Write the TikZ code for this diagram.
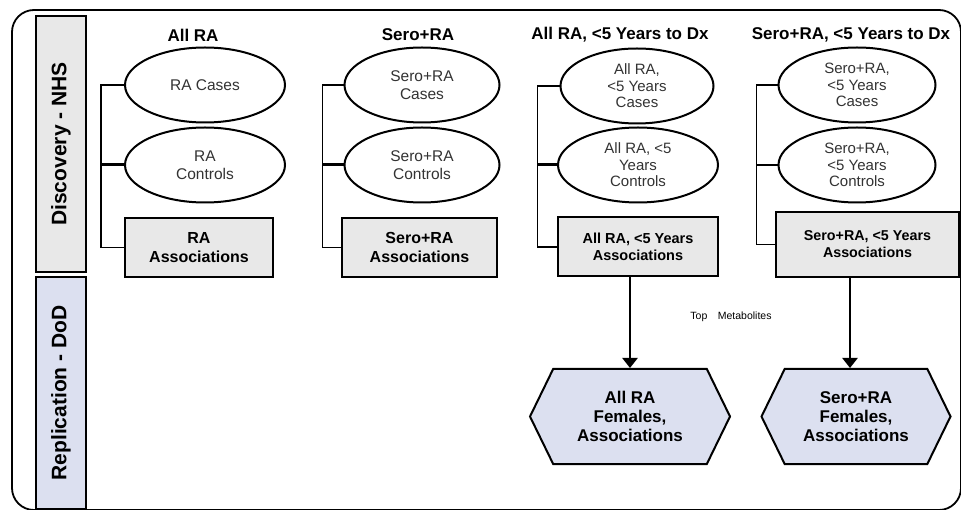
\documentclass[tikz,border=0pt]{standalone}
\usepackage{fontspec}
\setmainfont{Liberation Sans}
\usetikzlibrary{shapes,arrows.meta}
\definecolor{boxgray}{HTML}{E8E8E8}
\definecolor{repblue}{HTML}{DCE0F0}

\begin{document}
\begin{tikzpicture}[x=1pt,y=-1pt]
\tikzset{
frame/.style={draw=black, line width=1.8pt, rounded corners=22pt},
sidebar/.style={rectangle, draw=black, line width=2pt, rotate=90, minimum height=50pt, inner sep=0pt, font=\bfseries\fontsize{21}{24}\selectfont},
coltitle/.style={font=\bfseries\fontsize{17}{19}\selectfont},
group/.style={ellipse, draw=black, line width=2pt, fill=white, minimum width=157pt, minimum height=75pt, inner sep=0pt, text=black!80, align=center, font=\fontsize{15.5}{17.5}\selectfont},
smallgroup/.style={font=\fontsize{15}{16.5}\selectfont},
assoc/.style={rectangle, draw=black, line width=2pt, fill=boxgray, minimum height=59pt, inner sep=0pt, align=center, font=\bfseries\fontsize{16}{19}\selectfont},
repl/.style={signal, signal to=east and west, signal pointer angle=128, draw=black, line width=2pt, fill=repblue, minimum width=200pt, minimum height=95pt, inner sep=0pt, align=center, font=\bfseries\fontsize{17}{19}\selectfont},
bracket/.style={draw=black, line width=1.6pt},
myarrow/.style={-{Triangle[width=15pt,length=10pt]}, line width=2.4pt},
}
\useasboundingbox (0,0) rectangle (961,510);

\draw[frame] (12,10) rectangle (961,510);
\node[sidebar, fill=boxgray, minimum width=256pt] (nhs) at (61,144) {Discovery - NHS};
\node[sidebar, fill=repblue, minimum width=232pt] (dod) at (61,393) {Replication - DoD};

% column titles
\node[coltitle] (t1) at (193,35) {All RA};
\node[coltitle] (t2) at (418,35) {Sero+RA};
\node[coltitle] (t3) at (620,35) {All RA, <5 Years to Dx};
\node[coltitle] (t4) at (851,35) {Sero+RA, <5 Years to Dx};

% cases and controls
\node[group, minimum width=160pt] (cas1) at (205,85) {RA Cases};
\node[group, minimum width=160pt] (con1) at (205,165) {RA\\Controls};
\node[group, minimum width=155pt] (cas2) at (422,85) {Sero+RA\\Cases};
\node[group, minimum width=155pt] (con2) at (422,165) {Sero+RA\\Controls};
\node[group, smallgroup, minimum width=153pt] (cas3) at (637,86) {All RA,\\<5 Years\\Cases};
\node[group, smallgroup, minimum width=160pt] (con3) at (638,165) {All RA, <5\\Years\\Controls};
\node[group, smallgroup] (cas4) at (857,85) {Sero+RA,\\<5 Years\\Cases};
\node[group, smallgroup] (con4) at (857,165) {Sero+RA,\\<5 Years\\Controls};

% association boxes
\node[assoc, minimum width=148pt] (as1) at (199,247.5) {RA\\Associations};
\node[assoc, minimum width=155pt] (as2) at (419.5,247.5) {Sero+RA\\Associations};
\node[assoc, minimum width=160pt, font=\bfseries\fontsize{14.5}{17}\selectfont] (as3) at (638,247) {All RA, <5 Years\\Associations};
\node[assoc, minimum width=183pt, minimum height=65pt, font=\bfseries\fontsize{14.3}{17}\selectfont] (as4) at (867.5,244.5) {Sero+RA, <5 Years\\Associations};

% replication
\node[repl] (fem3) at (630,416.5) {All RA\\Females,\\Associations};
\node[repl, minimum width=189pt] (fem4) at (856,416.5) {Sero+RA\\Females,\\Associations};
\node[font=\fontsize{10.5}{12}\selectfont] (top) at (731,317) {Top\quad Metabolites};

\draw[bracket] (cas1.west) -- ++(-23,0) |- (as1.west);
\draw[bracket, line width=3pt] (con1.west) -- ++(-23,0);
\draw[bracket] (cas2.west) -- ++(-21,0) |- (as2.west);
\draw[bracket, line width=3pt] (con2.west) -- ++(-21,0);
\draw[bracket] (cas3.west) -- ++(-22,0) |- (as3.west);
\draw[bracket, line width=3pt] (con3.west) -- ++(-20,0);
\draw[bracket] (cas4.west) -- ++(-21,0) |- (as4.west);
\draw[bracket] (con4.west) -- ++(-21,0);

\draw[myarrow] (as3.south -| fem3.north) -- (fem3.north);
\draw[myarrow] ([xshift=-6pt]as4.south -| fem4.north) -- ([xshift=-6pt]fem4.north);
\end{tikzpicture}
\end{document}
